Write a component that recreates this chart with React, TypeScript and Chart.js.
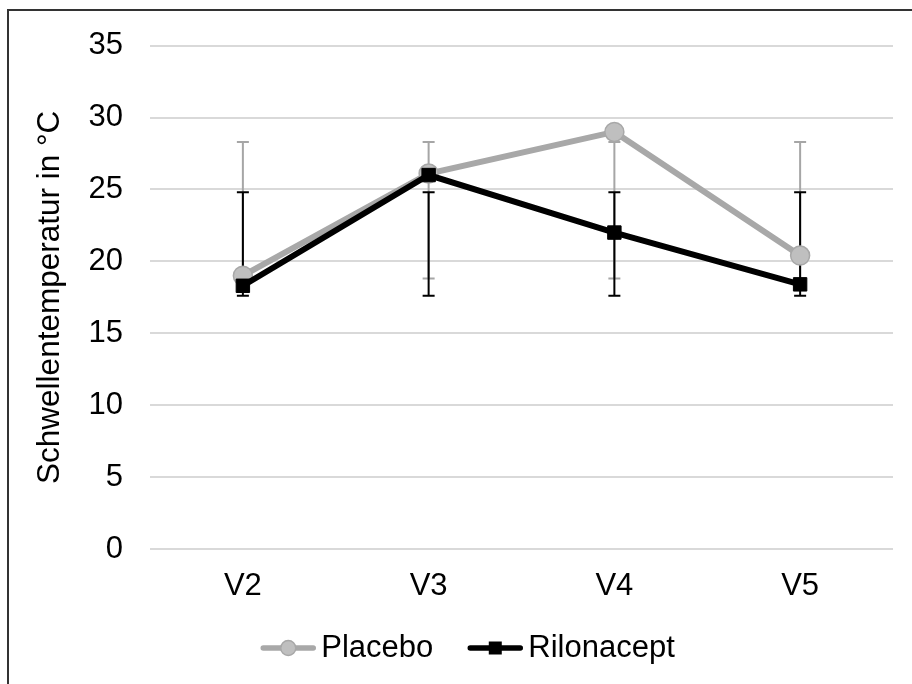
import React, { useEffect, useRef } from 'react';
import { Chart, registerables } from 'chart.js';

Chart.register(...registerables);

const categories = ['V2', 'V3', 'V4', 'V5'];
const placebo = [19.0, 26.1, 29.0, 20.4];
const rilonacept = [18.3, 26.0, 22.0, 18.4];
const placeboErrLow = [18.8, 18.8, 18.8, 18.8];
const placeboErrHigh = [28.3, 28.3, 28.3, 28.3];
const rilonaceptErrLow = [17.6, 17.6, 17.6, 17.6];
const rilonaceptErrHigh = [24.8, 24.8, 24.8, 24.8];
const yMin = 0;
const yMax = 35;
const yStep = 5;
const seriesNames = ['Placebo', 'Rilonacept'];
const yTitle = 'Schwellentemperatur in °C';

const FONT = "'Liberation Sans', Arial, sans-serif";
const GRAY_LINE = '#a8a8a8';
const GRAY_FILL = '#bfbfbf';
const BLACK = '#000000';

const errorBarPlugin = {
  id: 'errorBars',
  beforeDatasetsDraw(chart: any) {
    const { ctx, scales } = chart;
    const x = scales.x;
    const y = scales.y;
    const sets = [
      { low: placeboErrLow, high: placeboErrHigh, color: '#a6a6a6' },
      { low: rilonaceptErrLow, high: rilonaceptErrHigh, color: '#000000' },
    ];
    ctx.save();
    sets.forEach((s) => {
      ctx.strokeStyle = s.color;
      ctx.lineWidth = 2;
      categories.forEach((_, i) => {
        const px = x.getPixelForValue(i);
        const yl = y.getPixelForValue(s.low[i]);
        const yh = y.getPixelForValue(s.high[i]);
        ctx.beginPath();
        ctx.moveTo(px, yl);
        ctx.lineTo(px, yh);
        ctx.moveTo(px - 6, yl);
        ctx.lineTo(px + 6, yl);
        ctx.moveTo(px - 6, yh);
        ctx.lineTo(px + 6, yh);
        ctx.stroke();
      });
    });
    ctx.restore();
  },
};

const legendPlugin = {
  id: 'refLegend',
  afterDraw(chart: any) {
    const { ctx } = chart;
    ctx.save();
    ctx.font = `31px ${FONT}`;
    const lineLen = 54;
    const gap = 6;
    const itemGap = 35;
    const w1 = ctx.measureText(seriesNames[0]).width;
    const w2 = ctx.measureText(seriesNames[1]).width;
    const total = lineLen + gap + w1 + itemGap + lineLen + gap + w2;
    const cy = 648;
    let x = 468 - total / 2;
    const items = [
      { name: seriesNames[0], w: w1, kind: 'circle' },
      { name: seriesNames[1], w: w2, kind: 'rect' },
    ];
    items.forEach((it) => {
      ctx.lineWidth = 5.5;
      ctx.lineCap = 'round';
      ctx.strokeStyle = it.kind === 'circle' ? GRAY_LINE : BLACK;
      ctx.beginPath();
      ctx.moveTo(x + 2, cy);
      ctx.lineTo(x + lineLen - 2, cy);
      ctx.stroke();
      const mx = x + lineLen / 2;
      if (it.kind === 'circle') {
        ctx.fillStyle = GRAY_FILL;
        ctx.strokeStyle = GRAY_LINE;
        ctx.lineWidth = 1.5;
        ctx.beginPath();
        ctx.arc(mx, cy, 7.5, 0, Math.PI * 2);
        ctx.fill();
        ctx.stroke();
      } else {
        ctx.fillStyle = BLACK;
        ctx.fillRect(mx - 6.5, cy - 6.5, 13, 13);
      }
      ctx.fillStyle = '#000';
      ctx.textBaseline = 'middle';
      ctx.textAlign = 'left';
      ctx.fillText(it.name, x + lineLen + gap, cy);
      x += lineLen + gap + it.w + itemGap;
    });
    ctx.restore();
  },
};

export default function App() {
  const ref = useRef<HTMLCanvasElement | null>(null);

  useEffect(() => {
    if (!ref.current) return;
    const chart = new Chart(ref.current, {
      type: 'line',
      data: {
        labels: categories,
        datasets: [
          {
            label: seriesNames[0],
            data: placebo,
            borderColor: GRAY_LINE,
            backgroundColor: GRAY_FILL,
            borderWidth: 6,
            pointStyle: 'circle',
            pointRadius: 9.5,
            pointBorderWidth: 1.5,
            pointBorderColor: GRAY_LINE,
            pointBackgroundColor: GRAY_FILL,
            order: 1,
          },
          {
            label: seriesNames[1],
            data: rilonacept,
            borderColor: BLACK,
            backgroundColor: BLACK,
            borderWidth: 6,
            pointStyle: 'rect',
            pointRadius: 9.5,
            pointBorderWidth: 1,
            pointBorderColor: BLACK,
            pointBackgroundColor: BLACK,
            order: 0,
          },
        ],
      },
      options: {
        responsive: false,
        animation: false,
        devicePixelRatio: 1,
        layout: { padding: { top: 41, right: 19, left: 0, bottom: 0 } },
        plugins: {
          legend: { display: false },
          tooltip: { enabled: false },
        },
        scales: {
          x: {
            offset: true,
            grid: { display: false, drawTicks: false },
            border: { display: false },
            ticks: { font: { family: FONT, size: 31 }, color: '#000', padding: 19 },
            afterFit: (s: any) => {
              s.height = 135;
            },
          },
          y: {
            min: yMin,
            max: yMax,
            grid: { color: '#d9d9d9', lineWidth: 2, drawTicks: false },
            border: { display: false },
            ticks: {
              stepSize: yStep,
              font: { family: FONT, size: 31 },
              color: '#000',
              padding: 27,
            },
            title: {
              display: true,
              text: yTitle,
              font: { family: FONT, size: 31.5 },
              color: '#000',
              padding: { top: 31, bottom: 0 },
            },
            afterFit: (s: any) => {
              s.width = 150;
            },
          },
        },
      },
      plugins: [errorBarPlugin, legendPlugin],
    });
    return () => chart.destroy();
  }, []);

  return (
    <div style={{ position: 'fixed', left: 0, top: 0, width: 912, height: 684, overflow: 'hidden', background: '#fff' }}>
      <div
        style={{
          position: 'absolute',
          left: 7,
          top: 9,
          width: 1000,
          height: 1000,
          border: '2px solid #333',
          boxSizing: 'border-box',
        }}
      />
      <canvas ref={ref} width={912} height={684} style={{ position: 'absolute', left: 0, top: 0 }} />
    </div>
  );
}
